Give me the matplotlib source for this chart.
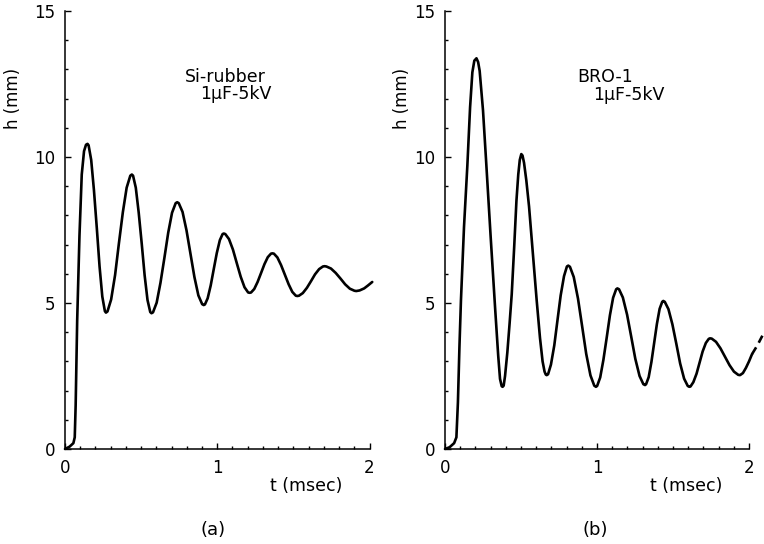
import matplotlib
matplotlib.use('Agg')
import matplotlib.pyplot as plt
from matplotlib.ticker import MultipleLocator

# (a) Si-rubber, 1uF-5kV : time in msec, height in mm
t_a = [0, 0.03, 0.055, 0.064, 0.07, 0.08, 0.095, 0.11, 0.125, 0.138, 0.148,
       0.155, 0.172, 0.190, 0.209, 0.227, 0.245, 0.262, 0.269,
       0.279, 0.303, 0.329, 0.354, 0.380, 0.405, 0.429, 0.439,
       0.447, 0.465, 0.484, 0.504, 0.523, 0.542, 0.560, 0.568,
       0.578, 0.602, 0.627, 0.653, 0.678, 0.703, 0.727, 0.737,
       0.747, 0.772, 0.798, 0.824, 0.850, 0.876, 0.901, 0.911,
       0.919, 0.937, 0.957, 0.977, 0.997, 1.017, 1.035, 1.043,
       1.053, 1.077, 1.103, 1.128, 1.154, 1.179, 1.203, 1.213,
       1.222, 1.243, 1.265, 1.288, 1.310, 1.332, 1.353, 1.362,
       1.372, 1.395, 1.419, 1.444, 1.469, 1.493, 1.516, 1.526,
       1.537, 1.562, 1.589, 1.616, 1.642, 1.669, 1.694, 1.705,
       1.717, 1.747, 1.778, 1.809, 1.840, 1.871, 1.901, 1.913,
       1.935, 1.965, 1.99, 2.018]
h_a = [0, 0.08, 0.2, 0.4, 1.5, 4.4, 7.3, 9.4, 10.2, 10.42, 10.45,
       10.40, 9.90, 8.87, 7.56, 6.25, 5.22, 4.72, 4.67,
       4.71, 5.12, 5.96, 7.04, 8.11, 8.95, 9.36, 9.4,
       9.36, 8.95, 8.10, 7.03, 5.95, 5.10, 4.69, 4.65,
       4.68, 5.01, 5.69, 6.55, 7.41, 8.09, 8.42, 8.45,
       8.42, 8.12, 7.49, 6.69, 5.89, 5.26, 4.96, 4.93,
       4.95, 5.16, 5.60, 6.16, 6.71, 7.15, 7.36, 7.38,
       7.36, 7.19, 6.83, 6.37, 5.90, 5.54, 5.36, 5.35,
       5.36, 5.48, 5.72, 6.03, 6.33, 6.57, 6.69, 6.7,
       6.69, 6.56, 6.30, 5.97, 5.64, 5.38, 5.25, 5.24,
       5.25, 5.34, 5.52, 5.75, 5.98, 6.16, 6.25, 6.26,
       6.25, 6.18, 6.03, 5.84, 5.64, 5.49, 5.42, 5.41,
       5.43, 5.5, 5.6, 5.72]

# (b) BRO-1, 1uF-5kV
t_b = [0, 0.03, 0.06, 0.075, 0.085, 0.095, 0.105, 0.125, 0.147, 0.165, 0.18, 0.193, 0.207,
       0.218, 0.228, 0.25, 0.27, 0.3, 0.33, 0.35, 0.362, 0.373, 0.379,
       0.386, 0.395, 0.41, 0.425, 0.439, 0.455, 0.47, 0.482, 0.492, 0.502,
       0.51, 0.52, 0.535, 0.553, 0.578, 0.603, 0.625, 0.642, 0.655, 0.663, 0.669,
       0.678, 0.697, 0.719, 0.740, 0.761, 0.783, 0.802, 0.811,
       0.822, 0.847, 0.875, 0.902, 0.929, 0.957, 0.982, 0.993,
       1.001, 1.021, 1.042, 1.064, 1.085, 1.106, 1.126, 1.134,
       1.145, 1.170, 1.198, 1.225, 1.252, 1.280, 1.305, 1.316,
       1.323, 1.340, 1.358, 1.376, 1.394, 1.412, 1.429, 1.436,
       1.446, 1.470, 1.496, 1.522, 1.547, 1.573, 1.597, 1.607,
       1.615, 1.634, 1.655, 1.675, 1.695, 1.716, 1.735, 1.743,
       1.755, 1.783, 1.812, 1.842, 1.872, 1.901, 1.929, 1.941,
       1.96, 1.98, 2.0, 2.02]
h_b = [0, 0.06, 0.2, 0.4, 1.6, 3.5, 5.1, 7.6, 9.7, 11.7, 12.9, 13.3, 13.38,
       13.25, 12.95, 11.6, 9.9, 7.3, 4.8, 3.2, 2.4, 2.15, 2.13,
       2.17, 2.5, 3.3, 4.3, 5.3, 6.9, 8.5, 9.4, 9.9, 10.1,
       10.05, 9.8, 9.2, 8.3, 6.7, 5.1, 3.8, 3.0, 2.65, 2.55, 2.53,
       2.56, 2.89, 3.55, 4.41, 5.26, 5.92, 6.25, 6.28,
       6.24, 5.89, 5.15, 4.21, 3.26, 2.52, 2.17, 2.13,
       2.16, 2.45, 3.05, 3.82, 4.58, 5.18, 5.47, 5.5,
       5.47, 5.19, 4.60, 3.85, 3.09, 2.50, 2.22, 2.19,
       2.22, 2.46, 2.98, 3.63, 4.28, 4.80, 5.04, 5.07,
       5.04, 4.79, 4.27, 3.60, 2.93, 2.41, 2.16, 2.13,
       2.14, 2.29, 2.58, 2.96, 3.34, 3.63, 3.77, 3.79,
       3.78, 3.67, 3.45, 3.16, 2.87, 2.65, 2.54, 2.53,
       2.6, 2.78, 3.0, 3.25]
t_b_dash = [2.02, 2.055, 2.09]
h_b_dash = [3.25, 3.55, 3.9]

W, H = 764, 544


def px(x, y):
    # pixel position (from top-left) -> figure fraction
    return x / W, 1 - y / H


def setup(ax):
    ax.set_xlim(0, 2)
    ax.set_ylim(0, 15)
    ax.spines['top'].set_visible(False)
    ax.spines['right'].set_visible(False)
    for s in ('left', 'bottom'):
        ax.spines[s].set_linewidth(1.1)
    ax.xaxis.set_major_locator(MultipleLocator(1))
    ax.xaxis.set_minor_locator(MultipleLocator(0.1))
    ax.yaxis.set_major_locator(MultipleLocator(5))
    ax.yaxis.set_minor_locator(MultipleLocator(1))
    ax.tick_params(which='both', direction='in', width=1.0, labelsize=12)
    ax.tick_params(which='major', length=4.5)
    ax.tick_params(which='minor', length=2.5)
    ax.tick_params(axis='y', pad=7)
    ax.tick_params(axis='x', pad=7)


fig = plt.figure(figsize=(7.64, 5.44), dpi=100)

ax_a = fig.add_axes([65 / W, 95 / H, 304.5 / W, 438 / H])
ax_b = fig.add_axes([445 / W, 95 / H, 304 / W, 438 / H])
setup(ax_a)
setup(ax_b)

ax_a.plot(t_a, h_a, color='black', lw=1.9, clip_on=False,
          solid_capstyle='round', solid_joinstyle='round')
ax_b.plot(t_b, h_b, color='black', lw=1.9, clip_on=False,
          solid_capstyle='round', solid_joinstyle='round')
ax_b.plot(t_b_dash, h_b_dash, color='black', lw=1.9, ls=(0, (3, 2)), clip_on=False)

fs = 12.5
fig.text(*px(185, 77), 'Si-rubber', fontsize=fs, ha='left', va='center')
fig.text(*px(200, 94), '1μF-5kV', fontsize=fs, ha='left', va='center')
fig.text(*px(577, 77), 'BRO-1', fontsize=fs, ha='left', va='center')
fig.text(*px(593, 95), '1μF-5kV', fontsize=fs, ha='left', va='center')

fig.text(*px(270, 486), 't (msec)', fontsize=fs, ha='left', va='center')
fig.text(*px(650, 486), 't (msec)', fontsize=fs, ha='left', va='center')
fig.text(*px(13, 98), 'h (mm)', fontsize=12, ha='center', va='center', rotation=90)
fig.text(*px(402, 98), 'h (mm)', fontsize=12, ha='center', va='center', rotation=90)

fig.text(*px(213, 530), '(a)', fontsize=13, ha='center', va='center')
fig.text(*px(595, 530), '(b)', fontsize=13, ha='center', va='center')

fig.savefig('out.png', dpi=100)
